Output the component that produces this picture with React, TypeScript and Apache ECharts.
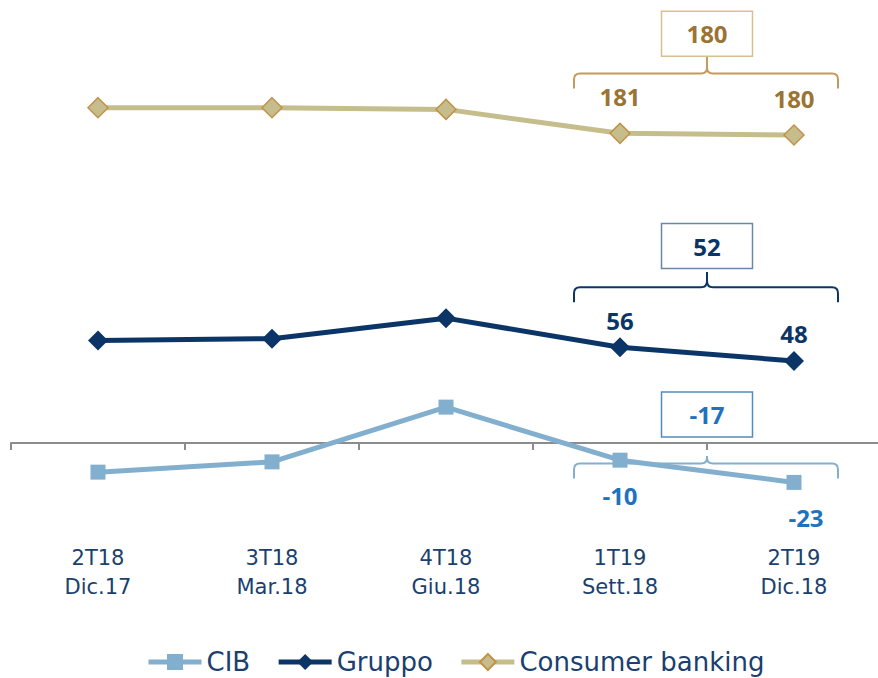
import React, { useEffect, useRef } from "react";
import * as echarts from "echarts";

const categories = ["2T18\nDic.17", "3T18\nMar.18", "4T18\nGiu.18", "1T19\nSett.18", "2T19\nDic.18"];
const cibValues = [-17, -11, 21, -10, -23];
const gruppoValues = [60, 61, 73, 56, 48];
const consumerValues = [196, 196, 195, 181, 180];
const labeledFrom = 3;

// annotation boxes (consumer, gruppo, cib)
const boxTexts = ["180", "52", "-17"];
const bracketLevels = [216, 91, -12];
const boxBottomLevels = [226, 102, 3.5];
const cuspTopLevels = [226, 100, -7.5];

const Bracket = (echarts.graphic as any).extendShape({
  shape: { x1: 0, x2: 0, y: 0, cx: 0, top: 0, leg: 15, r: 6 },
  buildPath(ctx: any, s: any) {
    ctx.moveTo(s.x1, s.y + s.leg);
    ctx.lineTo(s.x1, s.y + s.r);
    ctx.quadraticCurveTo(s.x1, s.y, s.x1 + s.r, s.y);
    ctx.lineTo(s.cx - s.r, s.y);
    ctx.quadraticCurveTo(s.cx, s.y, s.cx, s.y - s.r);
    ctx.lineTo(s.cx, s.top);
    ctx.moveTo(s.cx, s.y - s.r);
    ctx.quadraticCurveTo(s.cx, s.y, s.cx + s.r, s.y);
    ctx.lineTo(s.x2 - s.r, s.y);
    ctx.quadraticCurveTo(s.x2, s.y, s.x2, s.y + s.r);
    ctx.lineTo(s.x2, s.y + s.leg);
  },
});
(echarts.graphic as any).registerShape("bracket", Bracket);

const FONT = "DejaVu Sans";
const BOLD = "Open Sans";
const NAVY_TEXT = "#1B3F6E";

const labelData = (vals: number[], extra: (i: number) => any) =>
  vals.map((v, i) => ({ value: v, label: { show: i >= labeledFrom, ...extra(i) } }));

export default function App() {
  const ref = useRef<HTMLDivElement>(null);
  useEffect(() => {
    if (!ref.current) return;
    const chart = echarts.init(ref.current, undefined, { renderer: "svg" });
    const boldLabel = {
      fontFamily: BOLD,
      fontWeight: "bold" as const,
      fontSize: 24,
    };
    chart.setOption({
      animation: false,
      grid: { left: 11, width: 870, top: 32.4, height: 496.2, outerBoundsMode: "none", containLabel: false },
      legend: {
        left: 141,
        top: 643,
        itemWidth: 53,
        itemHeight: 20,
        itemGap: 26,
        lineStyle: { width: 5 },
        textStyle: { fontFamily: FONT, fontSize: 26, color: NAVY_TEXT, lineHeight: 28 },
        data: ["CIB", "Gruppo", "Consumer banking"],
      },
      xAxis: [
        {
          type: "category",
          data: categories,
          boundaryGap: true,
          position: "bottom",
          axisLine: { onZero: true, lineStyle: { color: "#8C8C8C", width: 2 } },
          axisTick: { show: true, length: 7, lineStyle: { color: "#8C8C8C", width: 2 } },
          axisLabel: { show: false },
        },
        {
          type: "category",
          data: categories,
          boundaryGap: true,
          position: "bottom",
          axisLine: { show: false, onZero: false },
          axisTick: { show: false },
          axisLabel: {
            margin: 15,
            fontFamily: FONT,
            fontSize: 21,
            lineHeight: 29,
            color: NAVY_TEXT,
          },
        },
      ],
      yAxis: {
        type: "value",
        show: false,
        min: -50,
        max: 240,
        splitLine: { show: false },
      },
      series: [
        {
          name: "CIB",
          type: "line",
          data: labelData(cibValues, (i) => (i === 4 ? { offset: [12, 0] } : {})),
          symbol: "rect",
          symbolSize: 15,
          itemStyle: { color: "#83AFCF" },
          lineStyle: { color: "#83AFCF", width: 5 },
          label: { position: "bottom", distance: 16, color: "#1E72BE", ...boldLabel },
          z: 4,
        },
        {
          name: "Gruppo",
          type: "line",
          data: labelData(gruppoValues, () => ({})),
          symbol: "diamond",
          symbolSize: 20,
          itemStyle: { color: "#0B3566" },
          lineStyle: { color: "#0B3566", width: 5 },
          label: { position: "top", distance: 5, color: "#0B3566", ...boldLabel },
          z: 3,
        },
        {
          name: "Consumer banking",
          type: "line",
          data: labelData(consumerValues, () => ({})),
          symbol: "diamond",
          symbolSize: 20,
          itemStyle: { color: "#C6BD8D", borderColor: "#C2924A", borderWidth: 1.5 },
          lineStyle: { color: "#C6BD8D", width: 5 },
          label: { position: "top", distance: 14, color: "#9B7433", ...boldLabel },
          z: 3,
        },
      ],
    });

    const colors = [
      { bracket: "#C49B5C", box: "#D8BF92", text: "#9B7433" },
      { bracket: "#0B3566", box: "#6A86A8", text: "#0B3566" },
      { bracket: "#83AFCF", box: "#4F8CC0", text: "#1E72BE" },
    ];
    const x3 = chart.convertToPixel({ xAxisIndex: 0 }, 3) as number;
    const x4 = chart.convertToPixel({ xAxisIndex: 0 }, 4) as number;
    const cx = (x3 + x4) / 2;
    const yPx = (v: number) => chart.convertToPixel({ yAxisIndex: 0 }, v) as number;
    const graphics: any[] = [];
    boxTexts.forEach((t, k) => {
      const by = yPx(bracketLevels[k]);
      const bottom = yPx(boxBottomLevels[k]);
      const top = yPx(cuspTopLevels[k]);
      const c = colors[k];
      graphics.push({
        type: "bracket",
        z: 1,
        shape: { x1: x3 - 46, x2: x4 + 44, y: by, cx, top, leg: 15, r: 6 },
        style: { stroke: c.bracket, lineWidth: 2, fill: "none" },
      });
      graphics.push({
        type: "rect",
        z: 1,
        shape: { x: cx - 45.5, y: bottom - 45, width: 91, height: 45 },
        style: { fill: "#ffffff", stroke: c.box, lineWidth: 1.5 },
      });
      graphics.push({
        type: "text",
        z: 2,
        x: cx,
        y: bottom - 22.5,
        style: {
          text: t,
          align: "center",
          verticalAlign: "middle",
          fill: c.text,
          font: `bold 24px "${BOLD}"`,
        },
      });
    });
    chart.setOption({ graphic: graphics });

    return () => chart.dispose();
  }, []);
  return (
    <div
      ref={ref}
      style={{ position: "fixed", left: 0, top: 0, width: 878, height: 678, background: "#fff" }}
    />
  );
}
